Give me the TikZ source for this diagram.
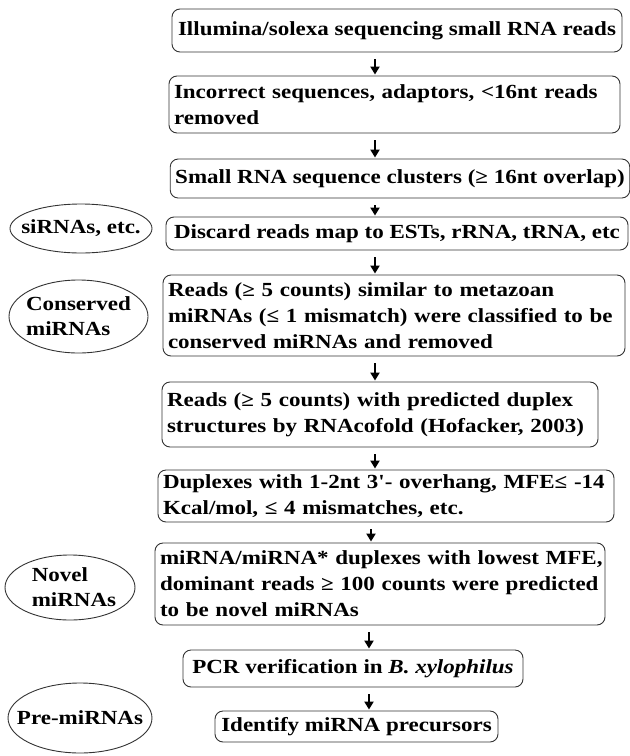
\documentclass[tikz,border=0pt]{standalone}
\usepackage{fontspec}
\setmainfont{Liberation Serif}[FakeStretch=1.15, Ligatures=TeXOff]
\usetikzlibrary{shapes.geometric,arrows.meta}
\begin{document}
\begin{tikzpicture}[x=1pt,y=-1pt,
  stepbox/.style={draw=black!80, line width=0.9pt, rounded corners=8pt, inner xsep=5pt, inner ysep=0pt,
    font=\bfseries\fontsize{20}{26}\selectfont, align=center},
  leftbox/.style={stepbox, align=left},
  oval/.style={draw=black!80, line width=0.9pt, ellipse, inner sep=0pt},
  ovtext/.style={font=\bfseries\fontsize{20}{25}\selectfont, align=left, inner sep=0pt},
  arr/.style={line width=2.2pt, -{Triangle[length=8pt,width=9pt]}, shorten <=7pt, shorten >=1pt}]
\useasboundingbox (0,0) rectangle (630,756);
\fill[white] (0,0) rectangle (630,756);

\node[stepbox, minimum width=450, minimum height=43] (b1) at (397,30.5)
  {Illumina/solexa sequencing small RNA reads};
\node[leftbox, text width=441, minimum height=57] (b2) at (394.5,104.5)
  {\mbox{Incorrect sequences, adaptors, <16nt reads}\\removed};
\node[stepbox, minimum width=456, minimum height=39] (b3) at (400,178.5)
  {Small RNA sequence clusters (≥ 16nt overlap)};
\node[stepbox, minimum width=462, minimum height=33] (b4) at (397,233.5)
  {Discard reads map to ESTs, rRNA, tRNA, etc};
\node[leftbox, text width=452, minimum height=81] (b5) at (394,315.5)
  {\mbox{Reads (≥ 5 counts) similar to metazoan}\\\mbox{miRNAs (≤ 1 mismatch) were classified to be}\\\mbox{conserved miRNAs and removed}};
\node[leftbox, text width=426, minimum height=65] (b6) at (380,414.5)
  {\mbox{Reads (≥ 5 counts) with predicted duplex}\\\mbox{structures by RNAcofold (Hofacker, 2003)}};
\node[leftbox, text width=446, minimum height=52] (b7) at (386,496)
  {\mbox{Duplexes with 1-2nt 3'- overhang, MFE≤ -14}\\\mbox{Kcal/mol, ≤ 4 mismatches, etc.}};
\node[leftbox, text width=440, minimum height=82] (b8) at (380,584)
  {\mbox{miRNA/miRNA* duplexes with lowest MFE,}\\\mbox{dominant reads ≥ 100 counts were predicted}\\\mbox{to be novel miRNAs}};
\node[stepbox, minimum width=340, minimum height=37] (b9) at (353,668.5)
  {PCR verification in \textit{B. xylophilus}};
\node[stepbox, minimum width=283, minimum height=31] (b10) at (356.5,726.5)
  {Identify miRNA precursors};

\node[oval, minimum width=142, minimum height=49] (e1) at (81,228.5) {};
\node[ovtext] (t1) at (e1) {siRNAs, etc.};
\node[oval, minimum width=139, minimum height=73] (e2) at (78.5,316.5) {};
\node[ovtext] (t2) at (e2) {Conserved\\miRNAs};
\node[oval, minimum width=130, minimum height=65] (e3) at (70,587.5) {};
\node[ovtext] (t3) at (74,587.5) {Novel\\miRNAs};
\node[oval, minimum width=144, minimum height=70] (e4) at (80,718) {};
\node[ovtext] (t4) at (e4) {Pre-miRNAs};

\coordinate (ax) at (375,0);
\coordinate (bx) at (371,0);
\coordinate (cx) at (369,0);
\draw[arr] (b1.south -| ax) -- (b2.north -| ax);
\draw[arr] (b2.south -| ax) -- (b3.north -| ax);
\draw[arr] (b3.south -| ax) -- (b4.north -| ax);
\draw[arr] (b4.south -| ax) -- (b5.north -| ax);
\draw[arr] (b5.south -| ax) -- (b6.north -| ax);
\draw[arr] (b6.south -| ax) -- (b7.north -| ax);
\draw[arr] (b7.south -| bx) -- (b8.north -| bx);
\draw[arr] (b8.south -| cx) -- (b9.north -| cx);
\draw[arr] (b9.south -| cx) -- (b10.north -| cx);
\end{tikzpicture}
\end{document}
